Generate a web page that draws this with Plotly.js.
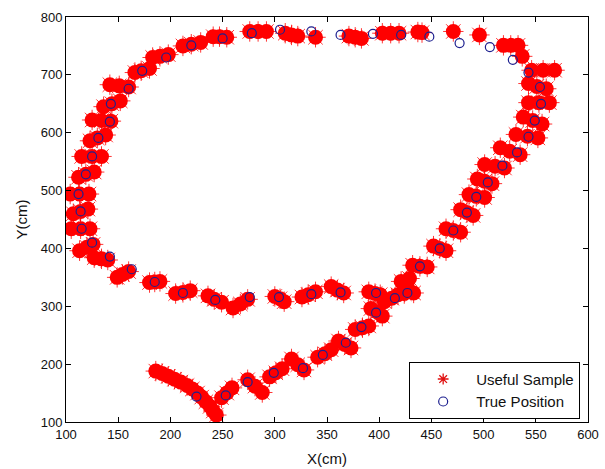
<!DOCTYPE html>
<html><head><meta charset="utf-8">
<script src="https://cdn.plot.ly/plotly-3.0.1.min.js"></script>
<style>html,body{margin:0;padding:0;background:#fff;}#chart{width:605px;height:469px;}</style>
</head><body><div id="chart"></div>
<script>
// Useful Sample points (cluster by cluster)
const sampleX = [
  186,192,198,204,210,216,221,226,230,234,238,241,244,
  249,254,259, 274,281,288, 295,301,307, 316,322,328, 341,348,354, 361,367,373,
  377,384,390, 392,398,403, 405,412,418, 421,429,427,433,424,
  432,439,446, 452,458,464, 464,471,478, 478,484,490, 486,493,501,
  494,501,508, 501,511,520, 516,525,535, 531,542,552, 538,547,556, 543,553,563,
  543,551,560, 546,557,568, 537, 519,526,533, 496, 471, 437,441,
  403,411,419, 371,377,383, 339, 310,316,322, 276,284,292, 241,247,254,
  212,220,229, 183,190,198, 166,172,180, 142,151,160, 136,144,152, 125,134,143,
  123,130,138, 115,125,134, 112,119,127, 104,113,122, 107,114,121, 105,114,123,
  113,120,126, 127,134,140, 149,154,160, 180,185,190, 205,212,219, 236,242,249,
  260,267,274, 300,305,309, 326,332,339, 354,360,366, 390,396,401
];
const sampleY = [
  188,184,179,174,169,163,157,150,143,135,127,119,112,
  142,150,159, 173,162,151, 178,185,192, 209,199,190, 212,218,225, 240,234,228,
  260,263,266, 296,290,283, 308,314,320, 343,348,333,323,322,
  371,369,368, 404,400,396, 434,431,428, 467,462,457, 493,490,488,
  520,516,512, 545,542,539, 574,568,562, 597,594,591, 627,621,615, 652,652,652,
  685,680,676, 708,708,708, 732, 751,751,751, 769, 775, 774,773,
  772,772,772, 767,765,763, 765, 772,769,767, 775,775,775, 766,766,765,
  750,753,756, 730,732,735, 704,707,711, 683,681,679, 645,650,655, 622,621,620,
  586,591,596, 559,559,559, 523,528,532, 494,494,494, 460,464,468, 434,434,434,
  396,402,407, 384,382,380, 350,355,360, 341,342,343, 322,324,327, 318,312,307,
  297,304,312, 317,313,308, 316,320,325, 334,328,323, 325,322,320
];
// True Position points
const trueX = [
  225,253,274,299,327,346,368,383,397,415,427,
  439,458,471,484,493,504,518,532,543,549,555,554,543,528,506,477,448,
  421,394,363,335,305,278,250,220,196,173,160,143,142,131,125,119,
  112,114,115,125,142,163,185,212,243,276,304,335,363,397
];
const trueY = [
  144,146,169,185,193,216,237,264,289,314,323,
  369,400,431,462,489,514,543,566,593,621,650,679,704,726,748,755,766,
  769,771,769,775,778,772,763,751,730,707,676,650,619,591,559,528,
  494,464,434,410,386,364,342,323,311,316,316,321,324,323
];
const seriesNames = ['Useful Sample', 'True Position'];
const xTickVals = [100,150,200,250,300,350,400,450,500,550,600];
const yTickVals = [100,200,300,400,500,600,700,800];
const xTitle = 'X(cm)';
const yTitle = 'Y(cm)';

const red = '#ff0000';
const navy = '#1c1f8f';

const traces = [
  // legend entry for the samples (small asterisk, as in the key)
  {type:'scatter', mode:'markers', name:seriesNames[0], x:sampleX, y:sampleY, hoverinfo:'skip',
   marker:{symbol:'asterisk-open', size:9, color:'#e01010', line:{color:'#e01010', width:1.3}}},
  // filled body of the sample clouds
  {type:'scatter', mode:'markers', x:sampleX, y:sampleY, showlegend:false, hoverinfo:'skip',
   marker:{symbol:'circle', size:15, color:red, line:{width:0}}},
  // fuzzy asterisk edges of the sample clouds
  {type:'scatter', mode:'markers', x:sampleX, y:sampleY, showlegend:false, hoverinfo:'skip',
   marker:{symbol:'asterisk-open', size:17, color:red, line:{color:'#f20000', width:0.8}}},
  {type:'scatter', mode:'markers', name:seriesNames[1], x:trueX, y:trueY,
   marker:{symbol:'circle-open', size:9, color:navy, line:{color:navy, width:1.2}}}
];

const axisCommon = {
  ticks:'inside', ticklen:5, tickwidth:1, tickcolor:'#000',
  showline:true, linecolor:'#000', linewidth:1, mirror:'ticks',
  showgrid:false, zeroline:false, fixedrange:true,
  tickfont:{size:13, color:'#111'}
};

const layout = {
  width:605, height:469,
  margin:{l:66, r:17, t:17, b:47, pad:0},
  paper_bgcolor:'#fff', plot_bgcolor:'#fff',
  font:{family:'Liberation Sans, Arial, sans-serif', size:13, color:'#111'},
  showlegend:true,
  xaxis:Object.assign({}, axisCommon, {range:[100,600], tickmode:'array', tickvals:xTickVals,
    ticktext:xTickVals.map(String), title:{text:xTitle, font:{size:15}, standoff:12}}),
  yaxis:Object.assign({}, axisCommon, {range:[100,800], tickmode:'array', tickvals:yTickVals,
    ticktext:yTickVals.map(String), title:{text:yTitle, font:{size:15}, standoff:9}}),
  legend:{x:0.985, xanchor:'right', y:0.008, yanchor:'bottom', bgcolor:'#fff',
    bordercolor:'#000', borderwidth:1, font:{size:15, color:'#111'}, itemwidth:56,
    itemsizing:'trace', tracegroupgap:0}
};

Plotly.newPlot('chart', traces, layout, {staticPlot:true, displayModeBar:false});
</script>
</body></html>
